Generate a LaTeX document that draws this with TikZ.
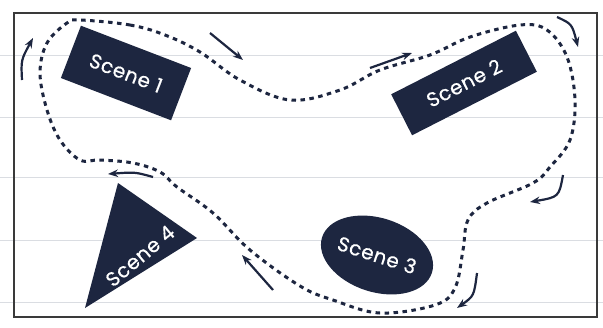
\documentclass[tikz,border=0pt]{standalone}
\usepackage{fontspec}
\newfontfamily\scenefont{Poppins}[FakeBold=0.6, LetterSpace=3]
\usetikzlibrary{
  arrows.meta,
  shapes.geometric
}
\definecolor{sceneNavy}{HTML}{1D2640}
\definecolor{paperRule}{HTML}{DADDE2}
\definecolor{frameInk}{HTML}{3A3A3A}
\tikzset{
  scene/.style={
    fill=sceneNavy,
    text=white,
    font=\scenefont\fontsize{20}{24}\selectfont,
    inner sep=0pt
  },
  scenebox/.style={
    scene,
    rectangle,
    minimum width=118pt,
    minimum height=56pt
  },
  trail/.style={
    draw=sceneNavy,
    line width=3pt,
    dash pattern=on 4.5pt off 4.5pt
  },
  flow/.style={
    -{Stealth[length=10pt,width=7.5pt]},
    line width=2.2pt,
    draw=sceneNavy
  },
  rule/.style={draw=paperRule, line width=1pt}
}
\begin{document}
\begin{tikzpicture}[x=1pt, y=-1pt]
  \useasboundingbox (0,0) rectangle (603,327);
  \fill[white] (0,0) rectangle (603,327);
  \foreach \y in {55,117,177,240,302}
    \draw[rule] (0,\y) -- (603,\y);
  \draw[frameInk, line width=1.5pt] (14,13) rectangle (597,317);

  \node[scenebox, rotate=-21] (scene1) at (126,73) {Scene 1};
  \node[scenebox, minimum width=140pt, minimum height=46pt, rotate=27] (scene2) at (464,83) {Scene 2};
  \node[scene, ellipse, minimum width=110pt, minimum height=74pt, rotate=-18] (scene3) at (377,255) {Scene 3};
  \fill[sceneNavy] (118,183) -- (197,238) -- (85,308) -- cycle;
  \node[scene, fill=none, rotate=40] (scene4) at (140,256) {Scene 4};

  \draw[trail] plot[smooth cycle, tension=0.6] coordinates {
    (80,20) (130,25) (165,35) (200,52) (240,80) (290,100) (340,90)
    (380,70) (430,55) (470,37) (520,25) (547,30) (567,57) (575,100)
    (570,140) (550,167) (533,183) (487,203) (468,220) (463,250)
    (455,288) (435,305) (380,313) (333,300) (300,286) (250,250)
    (213,213) (177,187) (160,172) (133,163) (100,160) (80,160)
    (60,140) (47,110) (40,73) (47,43) (67,23)
  };

  \draw[flow] (22,80) .. controls (21,60) .. (33,38);
  \draw[flow] (210,33) -- (243,60);
  \draw[flow] (370,68) -- (412,53);
  \draw[flow] (557,17) .. controls (572,24) .. (578,47);
  \draw[flow] (563,175) .. controls (559,197) .. (530,202);
  \draw[flow] (477,273) .. controls (474,296) .. (457,308);
  \draw[flow] (273,290) -- (242,255);
  \draw[flow] (153,177) .. controls (135,172) .. (108,174);
\end{tikzpicture}
\end{document}
